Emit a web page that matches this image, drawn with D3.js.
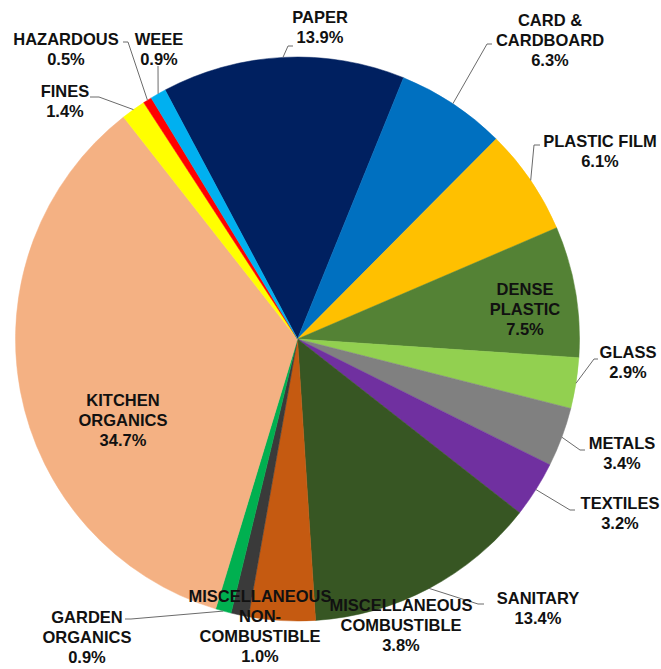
<!DOCTYPE html>
<html>
<head>
<meta charset="utf-8">
<script src="https://cdn.jsdelivr.net/npm/d3@7"></script>
<style>
  html, body { margin: 0; padding: 0; background: #fff; }
  svg { display: block; }
  .lbl { font-family: "Liberation Sans", Arial, sans-serif; font-weight: bold; font-size: 16.5px; fill: #111; }
</style>
</head>
<body>
<svg id="chart" width="661" height="669"></svg>
<script>
// Waste composition, clockwise from PAPER
const categories = ['PAPER', 'CARD & CARDBOARD', 'PLASTIC FILM', 'DENSE PLASTIC', 'GLASS', 'METALS',
    'TEXTILES', 'SANITARY', 'MISCELLANEOUS COMBUSTIBLE', 'MISCELLANEOUS NON-COMBUSTIBLE',
    'GARDEN ORGANICS', 'KITCHEN ORGANICS', 'FINES', 'HAZARDOUS', 'WEEE'];
const values = [13.9, 6.3, 6.1, 7.5, 2.9, 3.4, 3.2, 13.4, 3.8, 1.0, 0.9, 34.7, 1.4, 0.5, 0.9];
const labelLines = [
    ['PAPER'], ['CARD &', 'CARDBOARD'], ['PLASTIC FILM'], ['DENSE', 'PLASTIC'], ['GLASS'], ['METALS'],
    ['TEXTILES'], ['SANITARY'], ['MISCELLANEOUS', 'COMBUSTIBLE'], ['MISCELLANEOUS', 'NON-', 'COMBUSTIBLE'],
    ['GARDEN', 'ORGANICS'], ['KITCHEN', 'ORGANICS'], ['FINES'], ['HAZARDOUS'], ['WEEE']
];

// chart styling and layout
const colors = ['#002060', '#0070C0', '#FFC000', '#548235', '#92D050', '#808080', '#7030A0', '#375623',
    '#C55A11', '#3A3A3A', '#00B050', '#F4B183', '#FFFF00', '#FF0000', '#00B0F0'];

// label block centre, plus leader elbow and tip (null = no leader / straight)
const labelLayout = [
    { x: 320, y: 27, elbow: [288, 46], tip: [293, 46] },
    { x: 550, y: 40, elbow: [487, 44], tip: [492, 44] },
    { x: 600, y: 151, elbow: [534, 145], tip: [540, 145] },
    { x: 525, y: 309, inside: true },
    { x: 628, y: 362, elbow: [594, 359], tip: [598, 359] },
    { x: 622, y: 453, elbow: [580, 450], tip: [585, 450] },
    { x: 620, y: 513, elbow: [570, 510], tip: [575, 510] },
    { x: 538, y: 608, elbow: [478, 604], tip: [484, 604] },
    { x: 401, y: 625, inside: true },
    { x: 260, y: 626, inside: true },
    { x: 87, y: 637, elbow: [131, 619], tip: [125, 619] },
    { x: 123, y: 420, inside: true },
    { x: 65, y: 101, elbow: [99, 97], tip: [90, 97] },
    { x: 66, y: 49, elbow: [128, 42], tip: [123, 42] },
    { x: 159, y: 49, elbow: null, tip: [158, 66] }
];

const cx = 297.5, cy = 339, radius = 282;
const startDeg = -28;
const lineH = 20;

const svg = d3.select('#chart');
const g = svg.append('g').attr('transform', `translate(${cx},${cy})`);

const pie = d3.pie()
    .sort(null)
    .value(d => d)
    .startAngle(startDeg * Math.PI / 180)
    .endAngle((startDeg + 360) * Math.PI / 180);

const arcs = pie(values);
const arc = d3.arc().innerRadius(0).outerRadius(radius);

g.selectAll('path.slice')
    .data(arcs)
    .enter()
    .append('path')
    .attr('class', 'slice')
    .attr('d', arc)
    .attr('fill', (d, i) => colors[i])
    .attr('stroke', (d, i) => colors[i])
    .attr('stroke-width', 0.5);

// leader lines from slice edge at mid-angle
const leaders = svg.append('g');
arcs.forEach((d, i) => {
    const lay = labelLayout[i];
    if (lay.inside) return;
    const mid = (d.startAngle + d.endAngle) / 2;
    const ax = cx + radius * Math.sin(mid);
    const ay = cy - radius * Math.cos(mid);
    const pts = [[ax, ay]];
    if (lay.elbow) pts.push(lay.elbow);
    pts.push(lay.tip);
    leaders.append('path')
        .attr('d', d3.line()(pts))
        .attr('fill', 'none')
        .attr('stroke', '#6b6b6b')
        .attr('stroke-width', 1);
});

// labels
const labels = svg.append('g');
arcs.forEach((d, i) => {
    const lay = labelLayout[i];
    const lines = labelLines[i].concat([d3.format('.1f')(values[i]) + '%']);
    const top = lay.y - (lines.length - 1) * lineH / 2;
    const t = labels.append('text')
        .attr('class', 'lbl')
        .attr('text-anchor', 'middle');
    lines.forEach((s, k) => {
        t.append('tspan')
            .attr('x', lay.x)
            .attr('y', top + k * lineH + 5.9)
            .text(s);
    });
});
</script>
</body>
</html>
